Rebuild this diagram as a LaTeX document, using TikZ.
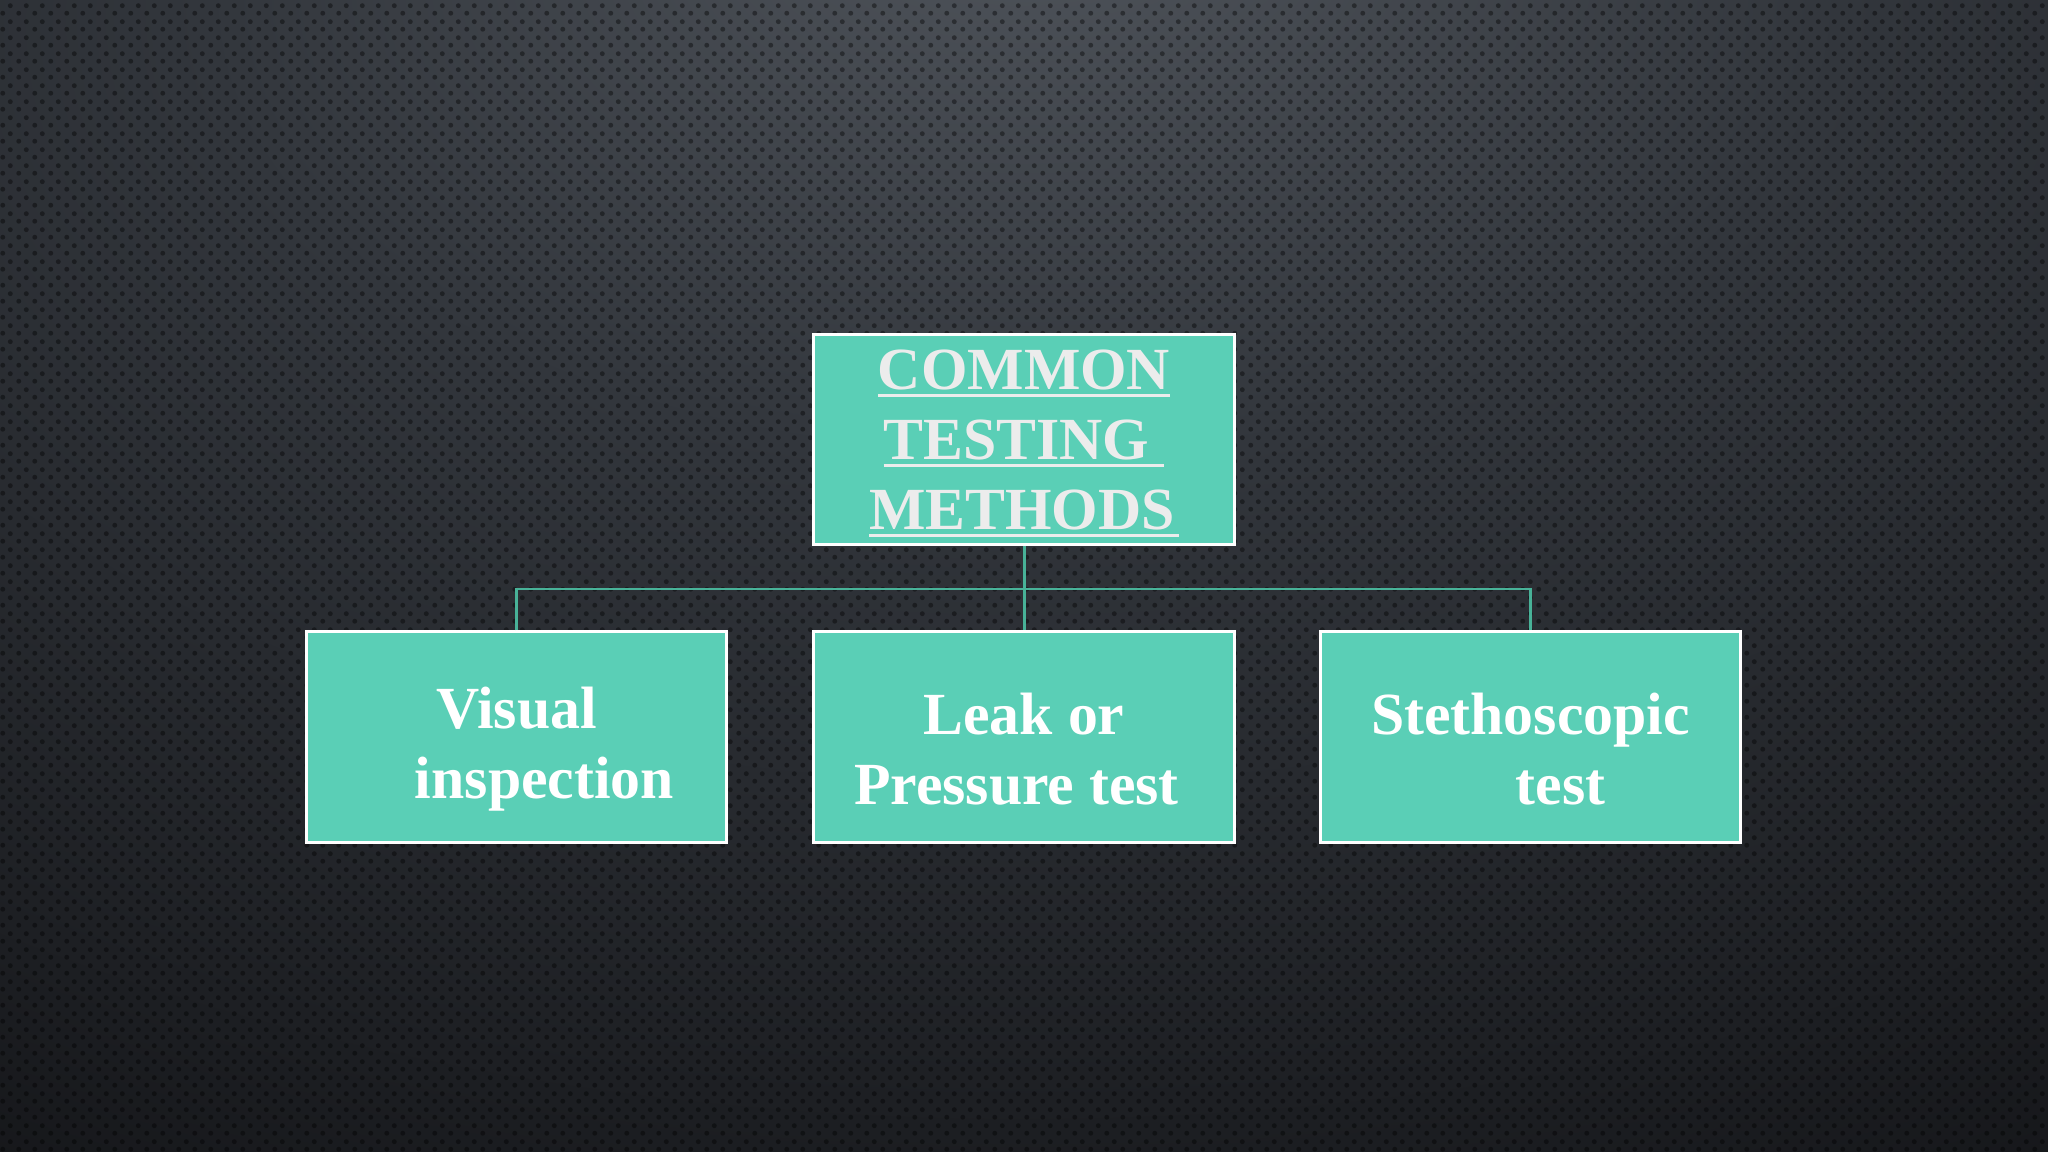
\documentclass[tikz,border=0pt]{standalone}
\usepackage{fontspec}
\setmainfont{Liberation Serif}
\usetikzlibrary{patterns.meta}
\definecolor{boxfill}{RGB}{90,207,182}
\definecolor{linkcol}{RGB}{72,178,152}
\definecolor{titlecol}{RGB}{236,236,236}
\definecolor{bgin}{RGB}{80,85,92}
\definecolor{bgmid}{RGB}{50,54,60}
\definecolor{bgout}{RGB}{18,19,22}
\pgfdeclareradialshading{bgshade}{\pgfpoint{0bp}{30bp}}{color(0bp)=(bgin); color(20bp)=(bgmid); color(54bp)=(bgout); color(120bp)=(bgout)}
\tikzdeclarepattern{
  name=bgdots, type=uncolored,
  bottom left={(0cm,0cm)}, top right={(0.16cm,0.16cm)}, tile size={(0.16cm,0.16cm)},
  code={\fill (0.04cm,0.04cm) circle (0.026cm); \fill (0.12cm,0.12cm) circle (0.026cm);}
}
\newcommand\myul[1]{\setbox0\hbox{#1}\rlap{\rule[-2.2pt]{\wd0}{1pt}}\box0}
\tikzset{
  box/.style={draw=white, line width=0.85pt, fill=boxfill, rectangle,
    minimum width=4.2cm, minimum height=2.1cm, inner sep=0pt},
  lbl/.style={align=center, inner sep=0pt, yshift=-0.12cm,
    font=\bfseries\fontsize{17}{19.9}\selectfont},
  link/.style={draw=linkcol, line width=0.85pt}
}
\begin{document}
\begin{tikzpicture}[x=0.01cm,y=-0.01cm]
\useasboundingbox (0,0) rectangle (2048,1152);
\shade[shading=bgshade] (0,0) rectangle (2048,1152);
\fill[pattern=bgdots, pattern color=black, fill opacity=0.4] (0,0) rectangle (2048,1152);
\node[box] (top) at (1024,439.5) {};
\node[box] (left) at (516.5,737) {};
\node[box] (mid) at (1024,737) {};
\node[box] (right) at (1530.5,737) {};
\node[lbl, text=titlecol, yshift=0.08cm] (toptext) at (top.center) {\myul{COMMON}\\\myul{TESTING\ }\\\myul{METHODS\kern0.04cm}};
\node[lbl, text=white] (lefttext) at (left.center) {Visual\\\hspace*{0.56cm}inspection};
\node[lbl, text=white] (midtext) at (mid.center) {Leak or\\Pressure test\hspace*{0.15cm}};
\node[lbl, text=white] (righttext) at (right.center) {Stethoscopic\\\hspace*{0.6cm}test};
\coordinate (bus) at (1024,589);
\draw[link] (top.south) -- (mid.north);
\draw[link] (left.north) |- (bus) -| (right.north);
\end{tikzpicture}
\end{document}
